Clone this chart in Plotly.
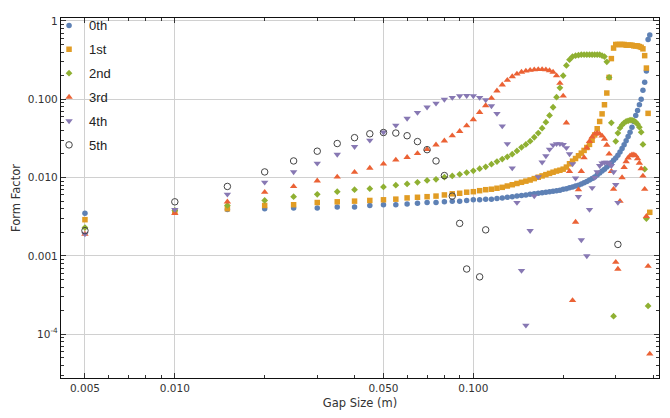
import plotly.graph_objects as go

gap = [0.005, 0.010, 0.015, 0.020, 0.025, 0.030, 0.035, 0.040, 0.045, 0.050,
       0.055, 0.060, 0.065, 0.070, 0.075, 0.080, 0.085, 0.090, 0.095, 0.100,
       0.105, 0.110, 0.115, 0.120, 0.125, 0.130, 0.135, 0.140, 0.145, 0.150,
       0.155, 0.160, 0.165, 0.170, 0.175, 0.180, 0.185, 0.190, 0.195, 0.200,
       0.205, 0.210, 0.215, 0.220, 0.225, 0.230, 0.235, 0.240, 0.245, 0.250,
       0.255, 0.260, 0.265, 0.270, 0.275, 0.280, 0.285, 0.290, 0.295, 0.300,
       0.305, 0.310, 0.315, 0.320, 0.325, 0.330, 0.335, 0.340, 0.345, 0.350,
       0.355, 0.360, 0.365, 0.370, 0.375, 0.380, 0.385, 0.390]

ff_0th = [0.0035, 0.0038, 0.0039, 0.0040, 0.0041, 0.0041, 0.0042, 0.0042, 0.0044, 0.0045,
          0.0045, 0.0046, 0.0047, 0.0048, 0.0048, 0.0049, 0.0050, 0.0050, 0.0051, 0.0052,
          0.0052, 0.0053, 0.0053, 0.0054, 0.0055, 0.0056, 0.0057, 0.0058, 0.0059, 0.0060,
          0.0061, 0.0062, 0.0063, 0.0064, 0.0065, 0.0066, 0.0067, 0.0068, 0.0069, 0.0071,
          0.0072, 0.0074, 0.0076, 0.0078, 0.0080, 0.0083, 0.0086, 0.0089, 0.0093, 0.0097,
          0.0102, 0.0108, 0.0114, 0.0121, 0.0128, 0.0136, 0.0145, 0.0155, 0.0166, 0.0178,
          0.0193, 0.0212, 0.0235, 0.0262, 0.0295, 0.0335, 0.038, 0.044, 0.052, 0.062,
          0.072, 0.085, 0.100, 0.13, 0.165, 0.23, 0.58, 0.66]

ff_1st = [0.0029, 0.0037, 0.0040, 0.0044, 0.0045, 0.0048, 0.0049, 0.0050, 0.0051, 0.0052,
          0.0053, 0.0055, 0.0056, 0.0057, 0.0058, 0.0060, 0.0062, 0.0063, 0.0065, 0.0066,
          0.0068, 0.0070, 0.0071, 0.0073, 0.0075, 0.0078, 0.0081, 0.0084, 0.0087, 0.0090,
          0.0093, 0.0097, 0.0101, 0.0105, 0.0109, 0.0113, 0.0117, 0.0121, 0.0124, 0.0128,
          0.0136, 0.0150, 0.0162, 0.0175, 0.0190, 0.0205, 0.0222, 0.0242, 0.0265, 0.030,
          0.035, 0.042, 0.052, 0.065, 0.085, 0.12, 0.19, 0.33, 0.45, 0.50,
          0.50, 0.50, 0.50, 0.50, 0.49, 0.49, 0.49, 0.49, 0.48, 0.48,
          0.48, 0.47, 0.46, 0.44, 0.36, 0.25, 0.066, 0.0036]

ff_2nd = [0.0023, 0.0038, 0.0044, 0.0051, 0.0057, 0.0061, 0.0066, 0.0070, 0.0072, 0.0076,
          0.0080, 0.0083, 0.0087, 0.0092, 0.0095, 0.0101, 0.0105, 0.0110, 0.0116, 0.0122,
          0.0130, 0.0137, 0.0148, 0.0160, 0.0172, 0.0184, 0.0199, 0.0219, 0.0243, 0.0265,
          0.0291, 0.0327, 0.037, 0.0427, 0.051, 0.062, 0.079, 0.106, 0.14, 0.20,
          0.27, 0.32, 0.35, 0.36, 0.365, 0.37, 0.37, 0.37, 0.37, 0.37,
          0.37, 0.37, 0.37, 0.36, 0.35, 0.30, 0.19, 0.05, 0.00017, 0.029,
          0.037, 0.043, 0.047, 0.050, 0.052, 0.053, 0.054, 0.054, 0.053, 0.051,
          0.048, 0.044, 0.038, 0.0265, 0.0128, 0.0030, 0.00023, None]

ff_3rd = [0.0019, 0.0035, 0.0049, 0.0065, 0.0077, 0.0091, 0.0102, 0.0117, 0.0132, 0.0149,
          0.0168, 0.0181, 0.0203, 0.0229, 0.0262, 0.0294, 0.0342, 0.039, 0.046, 0.055,
          0.068, 0.083, 0.103, 0.128, 0.153, 0.175, 0.195, 0.21, 0.222, 0.23,
          0.235, 0.238, 0.24, 0.24, 0.238, 0.232, 0.222, 0.20, 0.16, 0.11,
          0.05, 0.012, 0.00027, 0.0027, 0.007, 0.012, 0.018, 0.024, 0.029, 0.033,
          0.036, 0.037, 0.036, 0.034, 0.031, 0.026, 0.020, 0.012, 0.0071, 0.00083,
          0.00068, 0.0050, 0.010, 0.0135, 0.016, 0.0178, 0.019, 0.0195, 0.0195, 0.019,
          0.0175, 0.0153, 0.013, 0.0105, 0.0071, 0.0032, 0.00074, 0.000056]

ff_4th = [0.0019, 0.0039, 0.0061, 0.0087, 0.0118, 0.0152, 0.0197, 0.0248, 0.0299, 0.038,
          0.0465, 0.0568, 0.0675, 0.079, 0.0887, 0.0995, 0.105, 0.110, 0.111, 0.110,
          0.105, 0.098, 0.082, 0.0655, 0.0455, 0.027, 0.0132, 0.0048, 0.00065, 0.00013,
          0.0021, 0.0058, 0.0102, 0.0157, 0.0189, 0.0229, 0.026, 0.027, 0.027, 0.0264,
          0.024, 0.020, 0.0149, 0.0098, 0.0057, 0.0016, None, 0.0010, 0.0039, 0.0074,
          0.0100, 0.0118, 0.0142, 0.0153, 0.0156, 0.0156, 0.0152, 0.0142, 0.0118, 0.0081,
          0.0048, None, None, None, None, None, None, None, None, None,
          None, None, None, None, None, None, None, None]

ff_5th = [0.0021, 0.0049, 0.0077, 0.0118, 0.0163, 0.0217, 0.0272, 0.0323, 0.0362, 0.0376,
          0.037, 0.0342, 0.0288, 0.0227, 0.0163, 0.0106, 0.0058, 0.0026, 0.00068, None,
          0.00054, 0.00215, None, None, None, None, None, None, None, None,
          None, None, None, None, None, None, None, None, None, None,
          None, None, None, None, None, None, None, None, None, None,
          None, None, None, None, None, None, None, None, None, None,
          0.0014, None, None, None, None, None, None, None, None, None,
          None, None, None, None, None, None, None, None]

series_names = ["0th", "1st", "2nd", "3rd", "4th", "5th"]
series_values = [ff_0th, ff_1st, ff_2nd, ff_3rd, ff_4th, ff_5th]
colors = ["#5E81B5", "#E19C24", "#8FB032", "#EB6235", "#8778B3", "#444444"]
symbols = ["circle", "square", "diamond", "triangle-up", "triangle-down", "circle-open"]
sizes = [5.5, 5.5, 5.2, 6.5, 6.5, 6.5]

x_major = [0.005, 0.01, 0.05, 0.1]
x_major_text = ["0.005", "0.010", "0.050", "0.100"]
x_minor = [0.006, 0.007, 0.008, 0.009, 0.02, 0.03, 0.04, 0.06, 0.07, 0.08, 0.09, 0.2, 0.3, 0.4]
y_major = [1e-4, 1e-3, 1e-2, 1e-1, 1]
y_major_text = ["10<sup>-4</sup>", "0.001", "0.010", "0.100", "1"]
y_minor = [m * 10.0 ** e for e in range(-5, 1) for m in range(2, 10)]

fig = go.Figure()
for name, vals, c, s, sz in zip(series_names, series_values, colors, symbols, sizes):
    marker = dict(color=c, symbol=s, size=sz, line=dict(width=0))
    if s == "circle-open":
        marker = dict(color=c, symbol=s, size=sz, line=dict(width=1, color=c))
    fig.add_trace(go.Scatter(x=gap, y=vals, mode="markers", name=name,
                             legendgroup=name, marker=marker, cliponaxis=True))

fig.update_layout(
    width=670, height=418,
    margin=dict(l=61, r=10, t=10, b=38),
    paper_bgcolor="white", plot_bgcolor="white",
    font=dict(family="DejaVu Sans", size=11, color="#333"),
    showlegend=True,
    legend=dict(x=-0.02, y=1.021, xanchor="left", yanchor="top",
                bgcolor="rgba(0,0,0,0)", borderwidth=0,
                font=dict(family="Liberation Sans", size=13, color="#222"),
                tracegroupgap=4, itemwidth=30),
    shapes=[dict(type="rect", xref="paper", yref="paper", x0=0, x1=0.072,
                 y0=0.603, y1=1, fillcolor="white", line=dict(width=0),
                 layer="between")],
)
fig.update_xaxes(
    type="log", range=[-2.3813, -0.378],
    tickvals=x_major, ticktext=x_major_text,
    ticks="inside", ticklen=5, tickcolor="#333", tickwidth=1,
    minor=dict(tickvals=x_minor, ticks="inside", ticklen=3, tickcolor="#333", showgrid=False),
    showgrid=True, gridcolor="#d0d0d0", gridwidth=1,
    showline=True, linecolor="#111", linewidth=1.2, mirror="ticks",
    zeroline=False,
    tickfont=dict(family="DejaVu Sans", size=10.5, color="#333"),
    title=dict(text="Gap Size (m)", font=dict(family="DejaVu Sans", size=11.5, color="#333"), standoff=6),
)
fig.update_yaxes(
    type="log", range=[-4.559, 0.037],
    tickvals=y_major, ticktext=y_major_text,
    ticks="inside", ticklen=5, tickcolor="#333", tickwidth=1,
    minor=dict(tickvals=y_minor, ticks="inside", ticklen=3, tickcolor="#333", showgrid=False),
    showgrid=True, gridcolor="#d0d0d0", gridwidth=1,
    showline=True, linecolor="#111", linewidth=1.2, mirror="ticks",
    zeroline=False,
    tickfont=dict(family="DejaVu Sans", size=10.5, color="#333"),
    title=dict(text="Form Factor", font=dict(family="DejaVu Sans", size=11.5, color="#333"), standoff=4),
)

fig.write_html("out.html")
